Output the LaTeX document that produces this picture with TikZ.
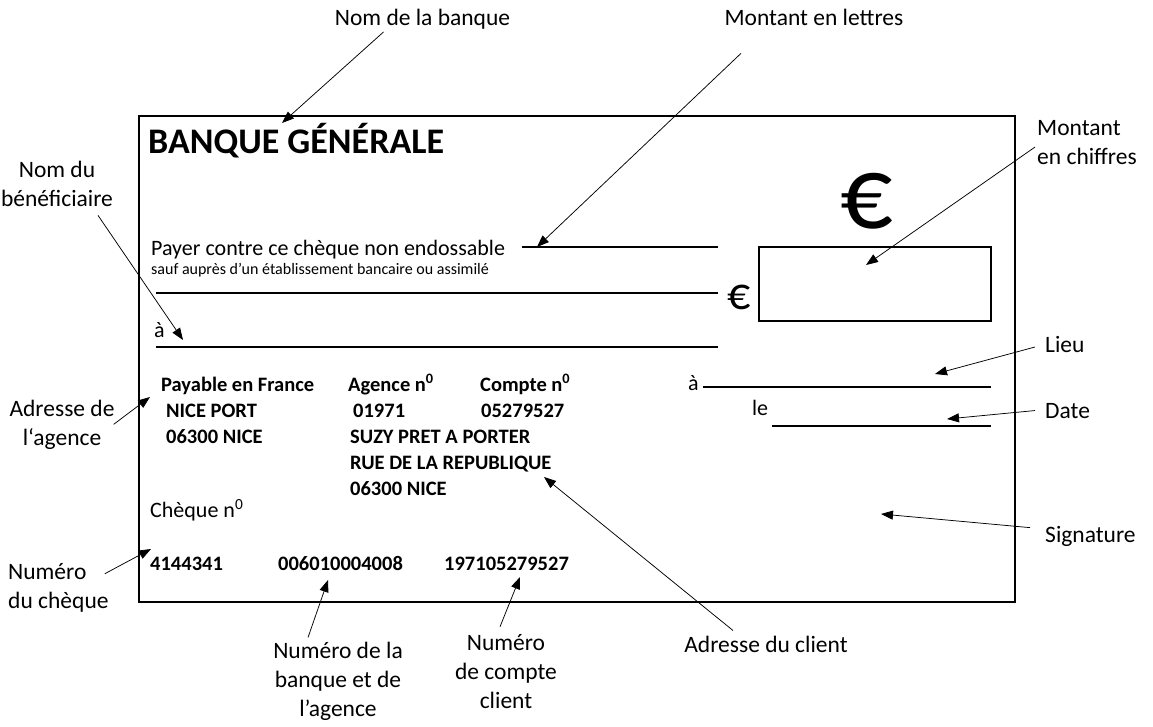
\documentclass[tikz,border=0pt]{standalone}
\usepackage{fontspec}
\setmainfont{Carlito}
\usetikzlibrary{arrows.meta}

\tikzset{
	annot/.style={font=\fontsize{23.5}{29}\selectfont, align=center, inner sep=2pt},
	chk/.style={font=\fontsize{22}{26}\selectfont, anchor=base west, inner sep=0pt},
	chkbold/.style={font=\fontsize{20.5}{26}\selectfont\bfseries, anchor=base west, inner sep=0pt},
	pointer/.style={-{Triangle[length=12pt,width=9pt]}, line width=0.75pt},
	rule/.style={line width=1.2pt}
}

\begin{document}
\begin{tikzpicture}[x=1pt, y=-1pt]
	\useasboundingbox (0,0) rectangle (1153,727);
	%%%%% CHEQUE %%%%%
	
	\draw[line width=1.3pt] (139,116) rectangle (1015,602);
	\draw[line width=2pt] (759,247) rectangle (991,321);
	
	\draw[rule] (522,247) -- (718,247);
	\draw[rule] (156,293) -- (718,293);
	\draw[rule] (156,347) -- (718,347);
	\draw[rule] (703,387) -- (991,387);
	\draw[rule] (772,426) -- (991,426);
	
	\node[chk, font=\fontsize{36}{40}\selectfont\bfseries] (titre) at (148,154) {BANQUE GÉNÉRALE};
	\node[inner sep=0pt, font=\fontsize{104}{104}\selectfont] (grandeuro) at (867,201) {€};
	\node[inner sep=0pt, font=\fontsize{46}{46}\selectfont] (petiteuro) at (739,297) {€};
	
	\node[chk] (payer) at (151,256) {Payer contre ce chèque non endossable};
	\node[chk, font=\fontsize{16}{18}\selectfont] (sauf) at (151,274) {sauf auprès d’un établissement bancaire ou assimilé};
	\node[chk] (ordre) at (154,337) {à};
	
	\node[chkbold] (payable) at (161,391) {Payable en France};
	\node[chkbold] (agence) at (348,391) {Agence n\textsuperscript{0}};
	\node[chkbold] (compte) at (480,391) {Compte n\textsuperscript{0}};
	\node[chkbold] (ville) at (166,417) {NICE PORT};
	\node[chkbold] (codeagence) at (353,417) {01971};
	\node[chkbold] (numcompte) at (481,417) {05279527};
	\node[chkbold] (cpagence) at (166,443) {06300 NICE};
	\node[chkbold] (client) at (350,443) {SUZY PRET A PORTER};
	\node[chkbold] (rue) at (350,469) {RUE DE LA REPUBLIQUE};
	\node[chkbold] (cpclient) at (350,495) {06300 NICE};
	
	\node[chk] (lieu) at (688,390) {à};
	\node[chk] (le) at (752,415) {le};
	
	\node[chk] (cheque) at (150,517) {Chèque n\textsuperscript{0}};
	\node[chkbold] (numcheque) at (150,570) {4144341};
	\node[chkbold] (codebanque) at (278,570) {006010004008};
	\node[chkbold] (rib) at (444,570) {197105279527};
	
	%%%%% LEGENDES %%%%%
	
	\node[annot, anchor=base] (lbanque) at (422.5,26) {Nom de la banque};
	\node[annot, anchor=base] (llettres) at (814,26) {Montant en lettres};
	\node[annot, anchor=base west, align=left] (lchiffres) at (1035,165) {Montant\\en chiffres};
	\node[annot, anchor=base] (lbenef) at (57,207) {Nom du\\bénéficiaire};
	\node[annot, anchor=base] (lagence) at (62,445) {Adresse de\\l‘agence};
	\node[annot, anchor=base west] (llieu) at (1043,352) {Lieu};
	\node[annot, anchor=base west] (ldate) at (1043,418) {Date};
	\node[annot, anchor=base west] (lsign) at (1043,542) {Signature};
	\node[annot, anchor=base west, align=left] (lcheque) at (6,608) {Numéro\\du chèque};
	\node[annot, anchor=base] (lbanqnum) at (338,716) {Numéro de la\\banque et de\\l’agence};
	\node[annot, anchor=base] (lcompte) at (506,708) {Numéro\\de compte\\client};
	\node[annot, anchor=base] (lclient) at (766,652) {Adresse du client};
	
	\coordinate (tipbanque) at (282,123);
	\coordinate (tiplettres) at (537,247);
	\coordinate (tipchiffres) at (866,265);
	\coordinate (tipbenef) at (183,340);
	\coordinate (tipagence) at (150,397);
	\coordinate (tiplieu) at (935,374);
	\coordinate (tipdate) at (947,419);
	\coordinate (tipsign) at (881,514);
	\coordinate (tipcheque) at (151,549);
	\coordinate (tipbanqnum) at (328,580);
	\coordinate (tipcompte) at (520,577);
	\coordinate (tipclient) at (544,477);
	
	\draw[pointer] ([xshift=-39pt]lbanque.south) -- (tipbanque);
	\draw[pointer] ([xshift=-73pt,yshift=-25pt]llettres.south) -- (tiplettres);
	\draw[pointer] ([yshift=-4pt]lchiffres.west) -- (tipchiffres);
	\draw[pointer] ([xshift=41pt,yshift=-6pt]lbenef.south) -- (tipbenef);
	\draw[pointer] ([xshift=-3pt]lagence.east) -- (tipagence);
	\draw[pointer] ([xshift=-8pt,yshift=-3pt]llieu.west) -- (tiplieu);
	\draw[pointer] ([xshift=-8pt]ldate.west) -- (tipdate);
	\draw[pointer] ([xshift=-13pt,yshift=-4pt]lsign.north west) -- (tipsign);
	\draw[pointer] ([xshift=-6pt,yshift=-13pt]lcheque.north east) -- (tipcheque);
	\draw[pointer] ([xshift=-30pt,yshift=2pt]lbanqnum.north) -- (tipbanqnum);
	\draw[pointer] ([xshift=-6pt,yshift=5pt]lcompte.north) -- (tipcompte);
	\draw[pointer] ([xshift=-33pt,yshift=3pt]lclient.north) -- (tipclient);
	
	%%%%% END %%%%%
\end{tikzpicture}
\end{document}
